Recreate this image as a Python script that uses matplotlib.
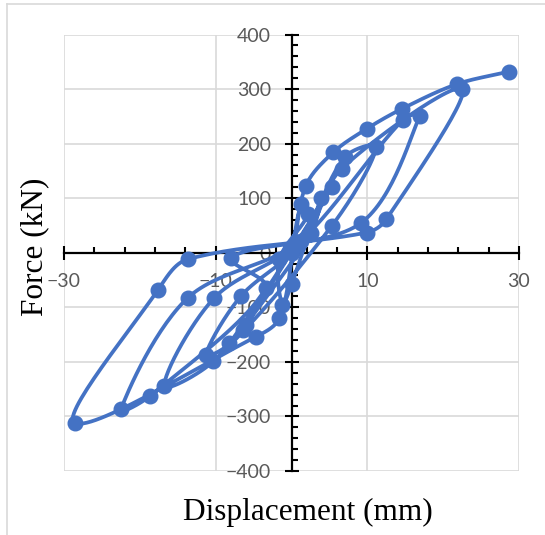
import numpy as np
import matplotlib
matplotlib.use("Agg")
import matplotlib.pyplot as plt
from matplotlib.ticker import FixedLocator
from matplotlib.lines import Line2D

# Cyclic test record, in loading order
displacement = [0.0, 1.3, 2.2, -1.6, -1.2, 0.0, 3.9, 2.6, -6.0, -6.4,
                5.3, -8.2, -11.3, -6.7, 0.8, 7.0, 11.2, 5.3, -10.3, -16.8,
                -10.2, 1.0, 14.7, 16.9, 9.2, -8.0, -3.4, -18.6, -22.5, -13.7,
                1.2, 6.6, 22.5, 12.5, 9.9, -13.7, -17.6, -28.6, -4.7, -1.6,
                0.3, 1.9, 5.5, 9.9, 14.6, 21.8, 28.7]
force = [0, 89, 71, -12, -95, -58, 101, 37, -132, -141,
         120, -166, -187, -80, 12, 175, 194, 49, -199, -244,
         -83, 18, 244, 251, 55, -9, -65, -262, -287, -83,
         22, 154, 300, 61, 37, -12, -68, -312, -154, -120,
         10, 123, 184, 227, 264, 309, 332]

x_major = [-30, -10, 10, 30]
x_minor = list(range(-30, 31, 4))
y_major = list(range(-400, 401, 100))
y_minor = list(range(-400, 401, 20))

W, H = 545, 535
fig = plt.figure(figsize=(W / 100, H / 100), dpi=100)

# chart-area frame (left and top edges visible)
fig.add_artist(Line2D([7 / W, 7 / W], [0, 1 - 4 / H], transform=fig.transFigure,
                      color="#d9d9d9", lw=1.2))
fig.add_artist(Line2D([7 / W, 1], [1 - 4 / H, 1 - 4 / H], transform=fig.transFigure,
                      color="#d9d9d9", lw=1.2))

left, right, top, bottom = 64, 519, 34.5, 471
ax = fig.add_axes([left / W, 1 - bottom / H, (right - left) / W, (bottom - top) / H])
ax.set_xlim(-30, 30)
ax.set_ylim(-400, 400)

ax.xaxis.set_major_locator(FixedLocator(x_major))
ax.xaxis.set_minor_locator(FixedLocator(x_minor))
ax.yaxis.set_major_locator(FixedLocator(y_major))
ax.yaxis.set_minor_locator(FixedLocator(y_minor))

for s in ("top", "right"):
    ax.spines[s].set_visible(False)
for s in ("left", "bottom"):
    ax.spines[s].set_position(("data", 0))
    ax.spines[s].set_color("black")
    ax.spines[s].set_linewidth(1.6)
    ax.spines[s].set_zorder(2.5)

ax.grid(True, which="major", color="#d9d9d9", lw=1.2, zorder=0)
ax.set_axisbelow(True)

ax.tick_params(which="major", direction="inout", length=9.5, width=1.5,
               color="black", labelsize=14, labelcolor="#595959", pad=10)
ax.tick_params(which="minor", direction="in", length=4.5, width=1.5, color="black")
for lab in ax.get_xticklabels() + ax.get_yticklabels():
    lab.set_fontfamily("Lato")


# smoothed connecting line: cubic Bezier through the points in display space,
# with handle lengths weighted by the neighbouring chord lengths
def smooth_path(xs, ys, n=30):
    pts = ax.transData.transform(np.column_stack([xs, ys]))
    P = np.vstack([pts[0], pts, pts[-1]])
    segs = []
    t = np.linspace(0, 1, n)[:, None]
    for i in range(1, len(P) - 2):
        p0, p1, p2, p3 = P[i - 1], P[i], P[i + 1], P[i + 2]
        d01 = np.linalg.norm(p1 - p0)
        d12 = np.linalg.norm(p2 - p1)
        d23 = np.linalg.norm(p3 - p2)
        k1 = d12 / (d01 + d12) / 3 if d01 + d12 > 0 else 0
        k2 = d12 / (d12 + d23) / 3 if d12 + d23 > 0 else 0
        c1 = p1 + (p2 - p0) * k1
        c2 = p2 - (p3 - p1) * k2
        seg = ((1 - t) ** 3 * p1 + 3 * (1 - t) ** 2 * t * c1
               + 3 * (1 - t) * t ** 2 * c2 + t ** 3 * p2)
        segs.append(seg if not segs else seg[1:])
    curve = ax.transData.inverted().transform(np.vstack(segs))
    return curve[:, 0], curve[:, 1]


blue = "#4472C4"
cx, cy = smooth_path(displacement, force)
ax.plot(cx, cy, color=blue, lw=2.7, zorder=3, solid_capstyle="round")
ax.plot(displacement, force, "o", color=blue, ms=10.5, zorder=4)

fig.text(35 / W, 1 - 247 / H, "Force (kN)", rotation=90, ha="center", va="center",
         fontsize=22.5, family="Liberation Serif", color="black")
fig.text(308 / W, 1 - 512 / H, "Displacement (mm)", ha="center", va="center",
         fontsize=22.5, family="Liberation Serif", color="black")

fig.savefig("out.png", dpi=100)
